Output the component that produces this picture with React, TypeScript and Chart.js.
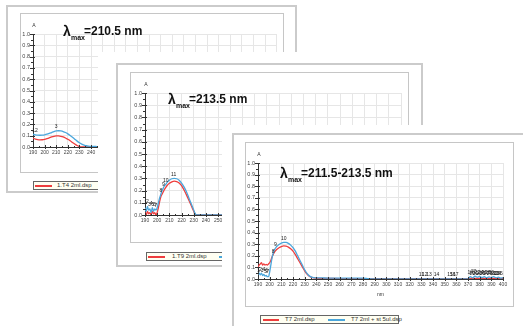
import React, { useEffect, useRef } from "react";
import { Chart, registerables } from "chart.js";
Chart.register(...registerables);

const FONT = '"Liberation Sans", Arial, sans-serif';
const RED = "#ee3d3d";
const BLUE = "#4aa6dc";

// ---------- Panel 1 : T4 ----------
const nm1 = [190, 192, 194, 196, 198, 200, 202, 204, 206, 208, 210, 212, 214, 216, 218, 220, 222, 224, 226, 228, 230, 232, 234, 236, 238, 240, 245, 250, 300, 350, 400];
const red1 = [0.078, 0.07, 0.065, 0.063, 0.064, 0.068, 0.074, 0.081, 0.089, 0.095, 0.098, 0.098, 0.095, 0.089, 0.08, 0.068, 0.055, 0.04, 0.026, 0.013, 0.004, 0.0, 0.0, 0.0, 0.0, 0.0, 0.0, 0.0, 0.0, 0.0, 0.0];
const blue1 = [0.112, 0.108, 0.105, 0.104, 0.105, 0.108, 0.113, 0.12, 0.128, 0.136, 0.142, 0.144, 0.142, 0.137, 0.128, 0.116, 0.102, 0.086, 0.069, 0.052, 0.037, 0.025, 0.017, 0.011, 0.008, 0.006, 0.004, 0.003, 0.002, 0.002, 0.002];
const peakNm1 = [190.5, 193, 210];
const peakA1 = [0.112, 0.11, 0.144];
const peakTxt1 = ["1", "2", "3"];

// ---------- Panel 2 : T9 ----------
const nm2 = [190, 191, 192, 193, 194, 195, 196, 197, 198, 199, 200, 201, 202, 203, 204, 205, 206, 207, 208, 210, 212, 214, 216, 218, 220, 222, 224, 226, 228, 230, 231, 232, 234, 240, 260, 300, 350, 400];
const blue2 = [0.06, 0.03, 0.07, 0.04, 0.05, 0.02, 0.06, 0.03, 0.05, 0.04, 0.06, 0.1, 0.14, 0.17, 0.2, 0.22, 0.24, 0.25, 0.265, 0.285, 0.297, 0.301, 0.297, 0.285, 0.262, 0.23, 0.19, 0.14, 0.09, 0.04, 0.015, 0.002, 0.0, 0.0, 0.0, 0.0, 0.0, 0.0];
const red2 = [0.02, 0.0, 0.03, 0.01, 0.02, 0.0, 0.03, 0.01, 0.02, 0.0, 0.02, 0.06, 0.11, 0.15, 0.17, 0.19, 0.21, 0.225, 0.24, 0.26, 0.272, 0.278, 0.274, 0.262, 0.24, 0.205, 0.165, 0.12, 0.075, 0.03, 0.01, 0.0, 0.0, 0.0, 0.0, 0.0, 0.0, 0.0];
const peakNm2 = [190.5, 192, 193.5, 195, 196.5, 198, 199, 203, 205, 207, 213.5];
const peakA2 = [0.07, 0.08, 0.05, 0.06, 0.05, 0.05, 0.04, 0.17, 0.22, 0.25, 0.301];
const peakTxt2 = ["1", "2", "3", "4", "5", "6", "7", "8", "9", "10", "11"];

// ---------- Panel 3 : T7 ----------
const nm3 = [190, 191, 192, 193, 194, 195, 196, 197, 198, 199, 200, 201, 202, 203, 204, 206, 208, 210, 212, 214, 216, 218, 220, 222, 224, 226, 228, 230, 232, 234, 236, 238, 240, 245, 250, 260, 270, 280, 285, 290, 300, 320, 340, 360, 370, 372, 374, 376, 378, 380, 382, 384, 386, 388, 390, 392, 394, 396, 398, 400];
const red3 = [0.1, 0.12, 0.13, 0.14, 0.12, 0.13, 0.12, 0.125, 0.12, 0.13, 0.14, 0.16, 0.19, 0.21, 0.23, 0.255, 0.27, 0.28, 0.285, 0.283, 0.275, 0.26, 0.24, 0.21, 0.175, 0.14, 0.105, 0.07, 0.042, 0.024, 0.014, 0.009, 0.007, 0.005, 0.005, 0.004, 0.004, 0.004, 0.004, 0.004, 0.004, 0.004, 0.004, 0.004, 0.004, 0.005, 0.004, 0.006, 0.004, 0.005, 0.004, 0.006, 0.004, 0.005, 0.004, 0.006, 0.004, 0.005, 0.004, 0.005];
const blue3 = [0.04, 0.05, 0.035, 0.05, 0.03, 0.04, 0.025, 0.03, 0.02, 0.02, 0.06, 0.12, 0.18, 0.22, 0.25, 0.28, 0.298, 0.31, 0.316, 0.315, 0.307, 0.292, 0.27, 0.24, 0.2, 0.16, 0.12, 0.08, 0.048, 0.027, 0.016, 0.012, 0.01, 0.009, 0.008, 0.008, 0.008, 0.007, 0.003, 0.001, 0.0, 0.0, 0.0, 0.0, 0.0, 0.02, 0.01, 0.025, 0.015, 0.022, 0.012, 0.02, 0.01, 0.018, 0.012, 0.02, 0.01, 0.016, 0.008, 0.012];
const peakNm3 = [190.5, 192, 193.5, 195, 196.5, 197.5, 198.5, 203, 205, 212, 330, 333, 336.5, 343, 354.5, 357, 359.5, 372, 373.5, 375, 376.5, 378, 379.5, 381, 382.5, 384, 385.5, 387, 388.5, 390, 391.5, 393, 394.5, 396, 397.5];
const peakA3 = [0.04, 0.05, 0.035, 0.05, 0.03, 0.04, 0.025, 0.2, 0.26, 0.316, 0.004, 0.004, 0.004, 0.004, 0.004, 0.004, 0.004, 0.02, 0.012, 0.025, 0.015, 0.022, 0.012, 0.02, 0.012, 0.02, 0.012, 0.018, 0.012, 0.02, 0.01, 0.016, 0.012, 0.014, 0.008];
const peakTxt3 = ["1", "2", "3", "4", "5", "6", "7", "8", "9", "10", "11", "12", "13", "14", "15", "16", "17", "18", "19", "20", "21", "22", "23", "24", "25", "26", "27", "28", "29", "30", "31", "32", "33", "34", "35"];

const X_MIN = 190;
const X_MAX = 400;
const X_STEP = 10;
const Y_MIN = 0;
const Y_MAX = 1;
const Y_STEP = 0.1;

type Box = { l: number; t: number; w: number; h: number };
type Pad = { yW: number; top: number; right: number; xH: number };

function makeDecor(pNm: number[], pA: number[], pTxt: string[], showNm: boolean) {
  return {
    id: "decor",
    afterDatasetsDraw(chart: any) {
      const { ctx, chartArea, scales } = chart;
      const x = scales.x;
      const y = scales.y;
      ctx.save();
      ctx.strokeStyle = "#333";
      ctx.lineWidth = 1;
      // y axis ticks (crossing)
      for (let i = 0; i <= 20; i++) {
        const v = i * 0.05;
        const py = Math.round(y.getPixelForValue(v)) + 0.5;
        const major = i % 2 === 0;
        ctx.beginPath();
        ctx.moveTo(chartArea.left - (major ? 3 : 2), py);
        ctx.lineTo(chartArea.left + (major ? 2 : 1), py);
        ctx.stroke();
      }
      // x axis ticks
      for (let i = 0; i <= 42; i++) {
        const v = X_MIN + i * 5;
        const px = Math.round(x.getPixelForValue(v)) + 0.5;
        const major = i % 2 === 0;
        ctx.beginPath();
        ctx.moveTo(px, chartArea.bottom - (major ? 2 : 1));
        ctx.lineTo(px, chartArea.bottom + (major ? 2 : 1));
        ctx.stroke();
      }
      ctx.fillStyle = "#333";
      ctx.font = `5px ${FONT}`;
      ctx.textAlign = "center";
      ctx.textBaseline = "bottom";
      ctx.fillText("A", chartArea.left + 1, chartArea.top - 6);
      if (showNm) {
        ctx.textBaseline = "middle";
        ctx.fillText("nm", (chartArea.left + chartArea.right) / 2, chartArea.bottom + 16);
      }
      ctx.fillStyle = "#222";
      ctx.textBaseline = "bottom";
      for (let i = 0; i < pNm.length; i++) {
        const px = x.getPixelForValue(pNm[i]);
        const py = y.getPixelForValue(pA[i]);
        ctx.fillText(pTxt[i], px, py - 1.5);
      }
      ctx.restore();
    },
  };
}

function SpectrumChart(props: {
  inner: Box;
  pad: Pad;
  nm: number[];
  red: number[];
  blue: number[];
  pNm: number[];
  pA: number[];
  pTxt: string[];
  showNm: boolean;
}) {
  const ref = useRef<HTMLCanvasElement | null>(null);
  const { inner, pad } = props;
  useEffect(() => {
    if (!ref.current) return;
    const chart = new Chart(ref.current, {
      type: "line",
      data: {
        datasets: [
          {
            label: "blue",
            data: props.nm.map((v, i) => ({ x: v, y: props.blue[i] })),
            borderColor: BLUE,
            borderWidth: 1.3,
            pointRadius: 0,
            tension: 0,
            cubicInterpolationMode: "monotone",
          },
          {
            label: "red",
            data: props.nm.map((v, i) => ({ x: v, y: props.red[i] })),
            borderColor: RED,
            borderWidth: 1.3,
            pointRadius: 0,
            tension: 0,
            cubicInterpolationMode: "monotone",
          },
        ],
      },
      options: {
        animation: false,
        responsive: false,
        maintainAspectRatio: false,
        devicePixelRatio: 1,
        layout: { padding: { top: pad.top, right: pad.right, left: 0, bottom: 0 } },
        plugins: { legend: { display: false }, tooltip: { enabled: false }, title: { display: false } },
        scales: {
          x: {
            type: "linear",
            min: X_MIN,
            max: X_MAX,
            afterFit: (s: any) => {
              s.height = pad.xH;
            },
            ticks: {
              stepSize: X_STEP,
              autoSkip: false,
              maxRotation: 0,
              padding: 3,
              color: "#444",
              font: { family: FONT, size: 5 },
              callback: (v: any) => String(v),
            },
            grid: { color: "#e6e6e6", lineWidth: 1, drawTicks: false },
            border: { color: "#333", width: 1 },
          },
          y: {
            type: "linear",
            min: Y_MIN,
            max: Y_MAX,
            afterFit: (s: any) => {
              s.width = pad.yW;
            },
            ticks: {
              stepSize: Y_STEP,
              autoSkip: false,
              padding: 3,
              color: "#444",
              font: { family: FONT, size: 5.5 },
              callback: (v: any) => Number(v).toFixed(1),
            },
            grid: { color: "#e6e6e6", lineWidth: 1, drawTicks: false },
            border: { color: "#333", width: 1 },
          },
        },
      } as any,
      plugins: [makeDecor(props.pNm, props.pA, props.pTxt, props.showNm)],
    });
    return () => chart.destroy();
  }, []);
  return (
    <>
      <div
        style={{
          position: "absolute",
          left: inner.l,
          top: inner.t,
          width: inner.w,
          height: inner.h,
          boxSizing: "border-box",
          border: "1px solid #c6c6c6",
          background: "#fff",
        }}
      />
      <canvas
        ref={ref}
        width={inner.w}
        height={inner.h}
        style={{ position: "absolute", left: inner.l, top: inner.t, width: inner.w, height: inner.h }}
      />
    </>
  );
}

function Title(props: { l: number; base: number; text: string }) {
  const { l, base, text } = props;
  const common: React.CSSProperties = {
    position: "absolute",
    fontFamily: FONT,
    fontWeight: "bold",
    whiteSpace: "nowrap",
    color: "#111",
  };
  return (
    <>
      <span style={{ ...common, left: l, top: base - 11.9, fontSize: 14, lineHeight: "14px" }}>λ</span>
      <span style={{ ...common, left: l + 8, top: base + 4.5 - 5.9, fontSize: 7, lineHeight: "7px" }}>max</span>
      <span style={{ ...common, left: l + 21, top: base - 10.2, fontSize: 12, lineHeight: "12px" }}>{text}</span>
    </>
  );
}

function Legend(props: { l: number; t: number; w: number; items: { color: string; x0: number; x1: number; tx: number; label: string }[] }) {
  const { l, t, w, items } = props;
  return (
    <div
      style={{
        position: "absolute",
        left: l,
        top: t,
        width: w,
        height: 9,
        boxSizing: "border-box",
        border: "1px solid #666",
        background: "#fffff2",
      }}
    >
      {items.map((it, i) => (
        <React.Fragment key={i}>
          <div style={{ position: "absolute", left: it.x0 - l - 1, top: 3, width: it.x1 - it.x0, height: 1.5, background: it.color }} />
          <span
            style={{
              position: "absolute",
              left: it.tx - l - 1,
              top: 0,
              fontFamily: FONT,
              fontSize: 6,
              lineHeight: "7px",
              color: "#333",
              whiteSpace: "nowrap",
            }}
          >
            {it.label}
          </span>
        </React.Fragment>
      ))}
    </div>
  );
}

function Frame(props: { b: Box }) {
  const { b } = props;
  return (
    <div
      style={{
        position: "absolute",
        left: b.l,
        top: b.t,
        width: b.w,
        height: b.h,
        boxSizing: "border-box",
        border: "2px solid #cbcbcb",
      }}
    />
  );
}

function White(props: { b: Box }) {
  const { b } = props;
  return <div style={{ position: "absolute", left: b.l, top: b.t, width: b.w, height: b.h, background: "#fff" }} />;
}

export default function App() {
  return (
    <div style={{ position: "absolute", left: 0, top: 0, width: 523, height: 326, overflow: "hidden", background: "#fff" }}>
      {/* Panel 1 */}
      <Frame b={{ l: 6, t: 5, w: 291, h: 188 }} />
      <SpectrumChart
        inner={{ l: 20, t: 13, w: 264, h: 160 }}
        pad={{ yW: 13, top: 21, right: 7, xH: 26 }}
        nm={nm1}
        red={red1}
        blue={blue1}
        pNm={peakNm1}
        pA={peakA1}
        pTxt={peakTxt1}
        showNm={true}
      />
      <Title l={63} base={35.5} text="=210.5 nm" />
      <Legend l={33} t={181} w={150} items={[{ color: RED, x0: 35, x1: 52, tx: 57, label: "1.T4 2ml.dsp" }, { color: BLUE, x0: 105, x1: 122, tx: 127, label: "1.T4 2ml + st 5ul.dsp" }]} />

      {/* Panel 2 */}
      <White b={{ l: 98, t: 52, w: 340, h: 230 }} />
      <Frame b={{ l: 116, t: 63, w: 307, h: 204 }} />
      <SpectrumChart
        inner={{ l: 130, t: 72, w: 279, h: 171 }}
        pad={{ yW: 15, top: 21, right: 8, xH: 28 }}
        nm={nm2}
        red={red2}
        blue={blue2}
        pNm={peakNm2}
        pA={peakA2}
        pTxt={peakTxt2}
        showNm={true}
      />
      <Title l={168} base={103.6} text="=213.5 nm" />
      <Legend l={146} t={252} w={160} items={[{ color: RED, x0: 148, x1: 165, tx: 172, label: "1.T9 2ml.dsp" }, { color: BLUE, x0: 219, x1: 236, tx: 241, label: "1.T9 2ml + st 5ul.dsp" }]} />

      {/* Panel 3 */}
      <White b={{ l: 222, t: 125, w: 310, h: 210 }} />
      <Frame b={{ l: 232, t: 133, w: 300, h: 210 }} />
      <SpectrumChart
        inner={{ l: 245, t: 142, w: 269, h: 165 }}
        pad={{ yW: 13, top: 21, right: 11, xH: 28 }}
        nm={nm3}
        red={red3}
        blue={blue3}
        pNm={peakNm3}
        pA={peakA3}
        pTxt={peakTxt3}
        showNm={true}
      />
      <Title l={280} base={177.6} text="=211.5-213.5 nm" />
      <Legend l={260} t={315} w={139} items={[{ color: RED, x0: 263, x1: 279, tx: 285, label: "T7 2ml.dsp" }, { color: BLUE, x0: 328, x1: 345, tx: 351, label: "T7 2ml + st 5ul.dsp" }]} />
    </div>
  );
}
